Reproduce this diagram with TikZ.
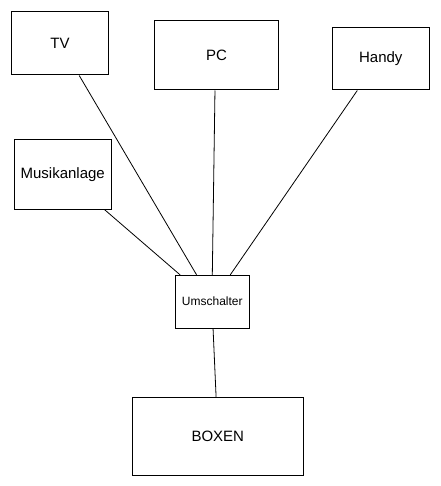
\documentclass[tikz,border=0pt]{standalone}
\usepackage{fontspec}
\setmainfont{Liberation Sans}
\usetikzlibrary{calc}
\begin{document}
\begin{tikzpicture}[x=1pt,y=-1pt,
  box/.style={draw=black,line width=1pt,inner sep=0pt,font=\fontsize{15}{18}\selectfont},
  conn/.style={draw=black,line width=0.8pt}]
\useasboundingbox[fill=white] (0,0) rectangle (440,486);
\node[box,minimum width=97pt,minimum height=63.5pt] (tv) at (60,43.25) {TV};
\node[box,minimum width=124pt,minimum height=69.5pt] (pc) at (216.6,55.25) {PC};
\node[box,minimum width=97pt,minimum height=62.5pt] (handy) at (380.8,58.75) {Handy};
\node[box,minimum width=96.5pt,minimum height=69.5pt] (musik) at (62.75,174.25) {Musikanlage};
\node[box,minimum width=74pt,minimum height=52.7pt,font=\fontsize{12}{14}\selectfont] (um) at (212.3,301.65) {Umschalter};
\node[box,minimum width=171pt,minimum height=78pt] (boxen) at (217.8,436.3) {BOXEN};
\draw[conn] ($(tv.south west)!0.696!(tv.south east)$) -- ($(um.north west)!0.29!(um.north east)$);
\draw[conn] ($(musik.south west)!0.927!(musik.south east)$) -- ($(um.north west)!0.07!(um.north east)$);
\draw[conn] ($(pc.south west)!0.487!(pc.south east)$) -- ($(um.north west)!0.5!(um.north east)$);
\draw[conn] ($(handy.south west)!0.26!(handy.south east)$) -- ($(um.north west)!0.74!(um.north east)$);
\draw[conn] ($(um.south west)!0.51!(um.south east)$) -- ($(boxen.north west)!0.49!(boxen.north east)$);
\end{tikzpicture}
\end{document}
